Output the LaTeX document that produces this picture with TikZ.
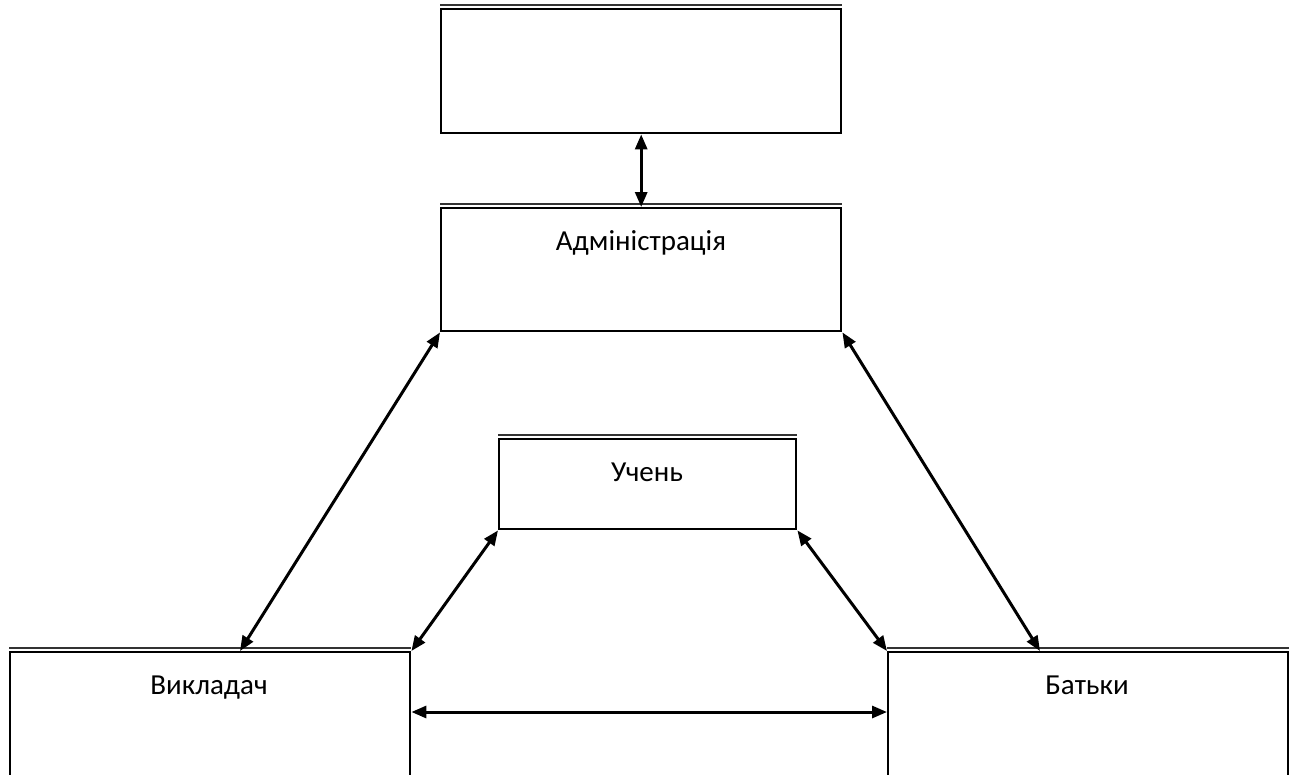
\documentclass[tikz,border=0pt]{standalone}
\usepackage{fontspec}
\setmainfont{Carlito}
\usetikzlibrary{arrows.meta}
\begin{document}
\begin{tikzpicture}[x=1pt,y=-1pt,
  box/.style={draw,line width=2.4pt,inner sep=0pt,anchor=north west},
  topline/.style={line width=2.2pt,black!80},
  lbl/.style={anchor=base,inner sep=0pt,font=\fontsize{29}{34}\selectfont},
  arr/.style={line width=3pt,{Triangle[length=15pt,width=12pt]}-{Triangle[length=15pt,width=12pt]}}]
\useasboundingbox (0,0) rectangle (1292,774);
\clip (0,0) rectangle (1292,774);
\node[box,minimum width=400pt,minimum height=124pt] (top) at (440,8) {};
\node[box,minimum width=400pt,minimum height=123pt] (adm) at (440,207) {};
\node[box,minimum width=297pt,minimum height=90pt] (uch) at (498,438) {};
\node[box,minimum width=400pt,minimum height=160pt] (vyk) at (9,651) {};
\node[box,minimum width=400pt,minimum height=160pt] (bat) at (887,651) {};
\foreach \b in {top,adm,uch,vyk,bat}{
  \draw[topline] ([yshift=3.2pt]\b.north west) -- ([yshift=3.2pt]\b.north east);
}
\node[lbl] (tadm) at (641,250) {Адміністрація};
\node[lbl] (tuch) at (647,481) {Учень};
\node[lbl] (tvyk) at (209,694) {Викладач};
\node[lbl] (tbat) at (1087,694) {Батьки};
\draw[arr] (top.south) -- (adm.north);
\draw[arr] (adm.south west) -- ([xshift=231pt]vyk.north west);
\draw[arr] (adm.south east) -- ([xshift=153pt]bat.north west);
\draw[arr] (uch.south west) -- (vyk.north east);
\draw[arr] (uch.south east) -- (bat.north west);
\draw[arr] ([yshift=-61pt]vyk.north east) -- ([yshift=-61pt]bat.north west);
\end{tikzpicture}
\end{document}
